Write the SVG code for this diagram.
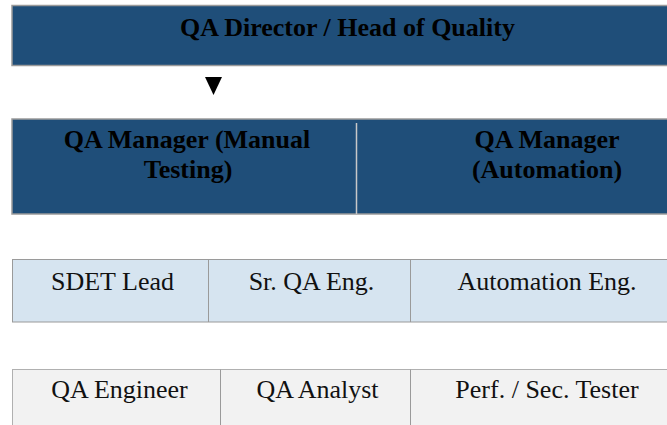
<svg xmlns="http://www.w3.org/2000/svg" width="667" height="425" viewBox="0 0 667 425">
  <style>
    .dark { fill: #1f4e79; stroke: #9a9a9a; stroke-width: 1.5; }
    .lead { fill: #d6e4f0; stroke: #9a9a9a; stroke-width: 1; }
    .staff { fill: #f2f2f2; stroke: #b0b0b0; stroke-width: 1; }
    .sep { stroke: #9a9a9a; stroke-width: 1; }
    .sepLight { stroke: #c8c8c8; stroke-width: 1.5; }
    text { font-family: 'Liberation Serif', Tinos, 'Times New Roman', Times, 'DejaVu Serif', serif; font-size: 26px; text-anchor: middle; }
    .hdr { font-weight: bold; fill: #000; }
    .cell { fill: #111; }
  </style>

  <!-- Top level -->
  <g id="director">
    <rect class="dark" x="12" y="5.5" width="680" height="60"/>
    <text class="hdr" x="347.5" y="36">QA Director / Head of Quality</text>
  </g>

  <!-- Connectors -->
  <g id="connectors">
    <polygon points="205,77 222,77 213.5,95" fill="#000"/>
  </g>

  <!-- Managers -->
  <g id="managers">
    <rect class="dark" x="12" y="119" width="680" height="95"/>
    <line class="sepLight" x1="356.5" y1="123" x2="356.5" y2="214"/>
  </g>
  <g id="mgr-manual">
    <text class="hdr" x="187" y="148">QA Manager (Manual</text>
    <text class="hdr" x="188" y="178">Testing)</text>
  </g>
  <g id="mgr-automation">
    <text class="hdr" x="547" y="148">QA Manager</text>
    <text class="hdr" x="547" y="178">(Automation)</text>
  </g>

  <!-- Leads row -->
  <g id="leads">
    <rect class="lead" x="12.5" y="259.5" width="680" height="62.5"/>
    <line class="sep" x1="208.5" y1="259.5" x2="208.5" y2="322"/>
    <line class="sep" x1="410.5" y1="259.5" x2="410.5" y2="322"/>
  </g>
  <g id="sdet-lead"><text class="cell" x="112.5" y="290">SDET Lead</text></g>
  <g id="sr-qa-eng"><text class="cell" x="311.5" y="290">Sr. QA Eng.</text></g>
  <g id="automation-eng"><text class="cell" x="547" y="290">Automation Eng.</text></g>

  <!-- Staff row -->
  <g id="staff">
    <rect class="staff" x="12.5" y="369.5" width="680" height="70"/>
    <line class="sep" x1="220.5" y1="369.5" x2="220.5" y2="425"/>
    <line class="sep" x1="410.5" y1="369.5" x2="410.5" y2="425"/>
  </g>
  <g id="qa-engineer"><text class="cell" x="119.5" y="398">QA Engineer</text></g>
  <g id="qa-analyst"><text class="cell" x="317.5" y="398">QA Analyst</text></g>
  <g id="perf-sec-tester"><text class="cell" x="547" y="398">Perf. / Sec. Tester</text></g>
</svg>
